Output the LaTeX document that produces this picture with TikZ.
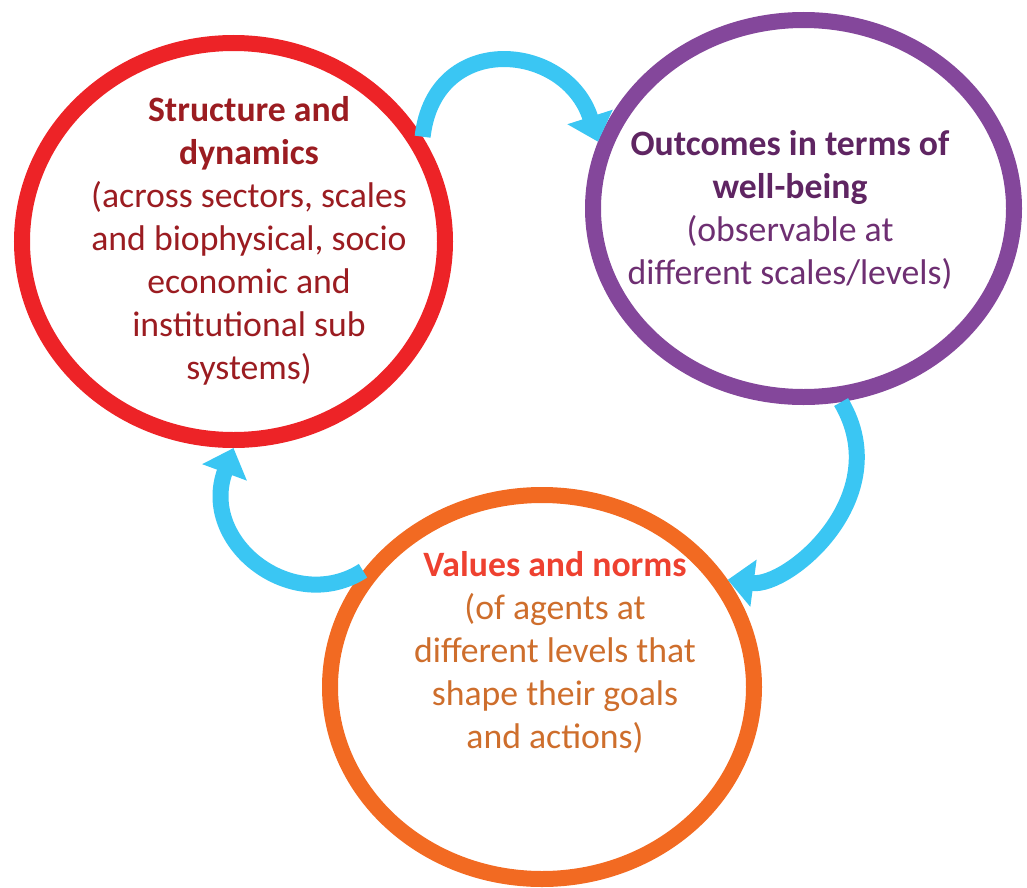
\documentclass[tikz,border=0pt]{standalone}
\usepackage{fontspec}
\setmainfont{Carlito}
\usetikzlibrary{shapes.geometric,arrows.meta}
\definecolor{ringred}{HTML}{ED2327}
\definecolor{ringpurple}{HTML}{84479B}
\definecolor{ringorange}{HTML}{F26A22}
\definecolor{flowblue}{HTML}{3AC6F3}
\definecolor{txtred}{HTML}{9B1C21}
\definecolor{txtpurple}{HTML}{5F2562}
\definecolor{txtpurplebody}{HTML}{6E2F72}
\definecolor{txtorange}{HTML}{EE4130}
\definecolor{txtorangebody}{HTML}{CE6E2C}
\tikzset{
  ring/.style={ellipse, draw=#1, line width=16bp, inner sep=0pt, outer sep=8bp},
  flow/.style={draw=flowblue, line width=16bp, -{Triangle[width=46bp,length=26bp]}},
  blurb/.style={align=center, inner sep=0pt, font=\fontsize{35.7bp}{43bp}\selectfont}
}
\begin{document}
\begin{tikzpicture}[x=1bp,y=1bp]
    \useasboundingbox (0,0) rectangle (1027,-888);
    \node [ring=ringred, minimum width=423bp, minimum height=397bp] (struct) at (233.5,-241.5) {};
    \node [ring=ringpurple, minimum width=421bp, minimum height=377bp] (outc) at (803.5,-208.5) {};
    \node [ring=ringorange, minimum width=424bp, minimum height=384bp] (values) at (542,-687) {};
    \node [blurb, text=txtred] (structtxt) at (249,-241) {\textbf{Structure and}\\\textbf{dynamics}\\(across sectors, scales\\and biophysical, socio\\economic and\\institutional sub\\systems)};
    \node [blurb, text=txtpurplebody] (outctxt) at (790,-210) {\textcolor{txtpurple}{\textbf{Outcomes in terms of}}\\\textcolor{txtpurple}{\textbf{well-being}}\\(observable at\\different scales/levels)};
    \node [blurb, text=txtorangebody] (valuestxt) at (555,-652) {\textcolor{txtorange}{\textbf{Values and norms}}\\(of agents at\\different levels that\\shape their goals\\and actions)};
    \draw [flow] (struct.29) .. controls +(12,106) and +(-32,100) .. (outc.162);
    \draw [flow] (outc.-79) .. controls +(56,-95) and +(60,-8) .. (values.30);
    \draw [flow] (values.147) .. controls +(-70,-45) and +(-35,-95) .. (struct.-90);
\end{tikzpicture}
\end{document}
